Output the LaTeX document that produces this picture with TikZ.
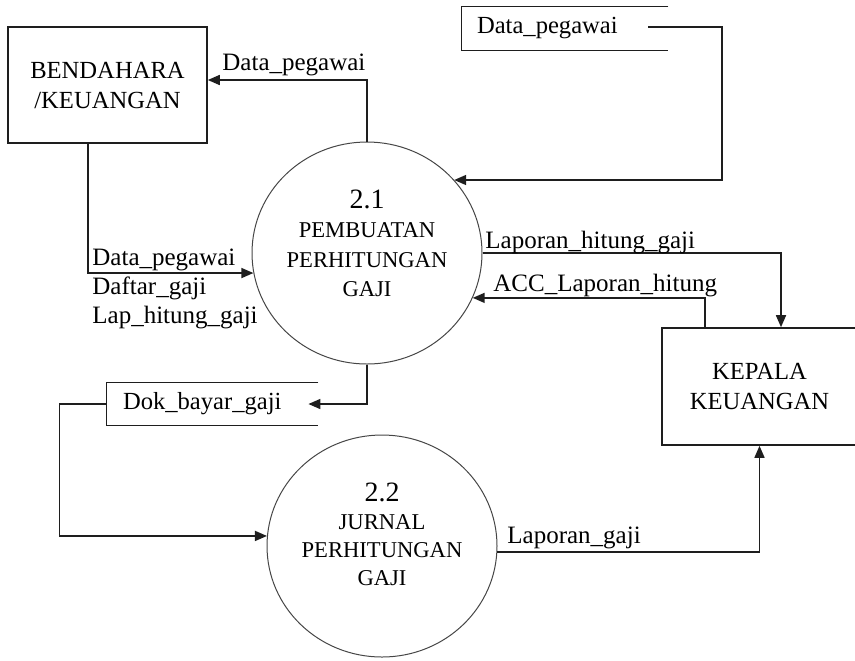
\documentclass[tikz,border=0pt]{standalone}
\usepackage{fontspec}
\setmainfont{Liberation Serif}
\usetikzlibrary{arrows.meta, shapes.geometric, positioning}
\definecolor{lineblk}{RGB}{30,30,30}
\definecolor{circgray}{RGB}{70,70,70}

\tikzset{
  entity/.style={draw=lineblk, line width=0.8pt, minimum width=99.5pt,
                 minimum height=58pt, align=center,
                 font=\fontsize{12.3}{15}\selectfont},
  process/.style={ellipse, draw=circgray, line width=0.5pt,
                  minimum width=115pt, minimum height=111pt, inner sep=0pt},
  proctext/.style={align=center, inner sep=0pt,
                   font=\fontsize{11.3}{14.75}\selectfont},
  store/.style={minimum width=103pt, minimum height=21.5pt, inner xsep=7.5pt,
                text width=88pt, align=left,
                font=\fontsize{12.3}{14}\selectfont},
  storeline/.style={draw=lineblk, line width=0.8pt},
  flow/.style={draw=lineblk, line width=0.8pt,
               -{Triangle[length=6pt,width=5pt]}},
  flowlbl/.style={anchor=base west, inner sep=0pt,
                  font=\fontsize{12.5}{14.5}\selectfont},
}

\begin{document}
\begin{tikzpicture}[x=0.5pt, y={(0,-0.5pt)}]
  \useasboundingbox (0,0) rectangle (855,660);

  % external entities
  \node[entity] (bend) at (107.5,85) {BENDAHARA\\/KEUANGAN};
  \node[entity, minimum width=97.5pt, minimum height=58.5pt] (kep)
       at (759.5,386.5) {KEPALA\\KEUANGAN};

  % processes
  \node[process] (p21) at (367,253) {};
  \node[proctext] (p21t) at (367,243.5)
       {{\fontsize{14}{16}\selectfont 2.1}\\PEMBUATAN\\PERHITUNGAN\\GAJI};
  \node[process] (p22) at (382,546) {};
  \node[proctext, font=\fontsize{11.3}{14}\selectfont] (p22t) at (382,534)
       {{\fontsize{14}{16}\selectfont 2.2}\\JURNAL\\PERHITUNGAN\\GAJI};

  % data stores
  \node[store] (ds1) at (565,28.5) {Data\_pegawai};
  \draw[storeline] (ds1.north east) -- (ds1.north west)
                   -- (ds1.south west) -- (ds1.south east);
  \node[store, minimum width=105.5pt, text width=89.5pt, inner xsep=8pt,
        minimum height=21pt] (ds2) at (212.5,404) {Dok\_bayar\_gaji};
  \draw[storeline] (ds2.north east) -- (ds2.north west)
                   -- (ds2.south west) -- (ds2.south east);

  % flows
  \draw[flow] (p21.north) |- ([yshift=2.5pt]bend.east);
  \coordinate (ds1o) at (648,27);
  \coordinate (c1) at (722,180);
  \draw[flow] (ds1o) -| (c1) -- (c1 -| p21.40);
  \draw[flow] ([xshift=-9.75pt]bend.south) |- (p21.190);
  \draw[flow] (p21.east) -| ([xshift=10.75pt]kep.north);
  \draw[flow] ([xshift=-27.25pt]kep.north) |- (p21.-23);
  \draw[flow] (p21.south) |- ([xshift=-5pt]ds2.east);
  \draw[flow] (ds2.west) -- ++(-23.5pt,0) |- (p22.175);
  \draw[flow] (p22.-3) -| (kep.south);

  % flow labels
  \node[flowlbl] (l1) at (222,70) {Data\_pegawai};
  \node[flowlbl] (l2) at (92,265) {Data\_pegawai};
  \node[flowlbl] (l3) at (92,294) {Daftar\_gaji};
  \node[flowlbl] (l4) at (92,323) {Lap\_hitung\_gaji};
  \node[flowlbl] (l5) at (485,248) {Laporan\_hitung\_gaji};
  \node[flowlbl] (l6) at (493,291) {ACC\_Laporan\_hitung};
  \node[flowlbl] (l7) at (507,543) {Laporan\_gaji};
\end{tikzpicture}
\end{document}
